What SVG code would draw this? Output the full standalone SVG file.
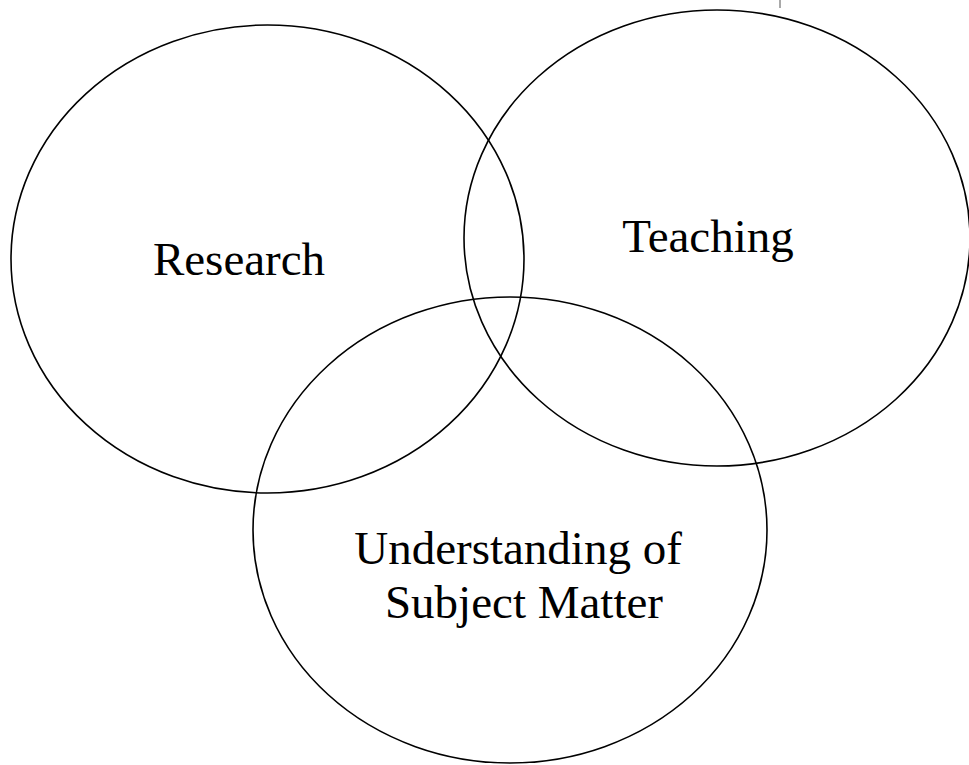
<svg xmlns="http://www.w3.org/2000/svg" width="969" height="765" viewBox="0 0 969 765">
<style>
.c{fill:none;stroke:#000;stroke-width:1.6}
.t{font-family:"Liberation Serif","Times New Roman",serif;font-size:47px;fill:#000;text-anchor:middle}
</style>
<rect width="969" height="765" fill="#fff"/>
<g id="research">
<ellipse class="c" cx="267.5" cy="259" rx="256.5" ry="234"/>
<text class="t" x="239" y="275">Research</text>
</g>
<g id="teaching">
<ellipse class="c" cx="717" cy="238" rx="253" ry="228"/>
<text class="t" x="708" y="252">Teaching</text>
</g>
<g id="understanding">
<ellipse class="c" cx="510" cy="530" rx="257" ry="233"/>
<text class="t" x="518" y="564">Understanding of</text>
<text class="t" x="524" y="618">Subject Matter</text>
</g>
<g id="connectors"/>
<path d="M780 0 L780 8" stroke="#555" stroke-width="1" fill="none"/>
</svg>
